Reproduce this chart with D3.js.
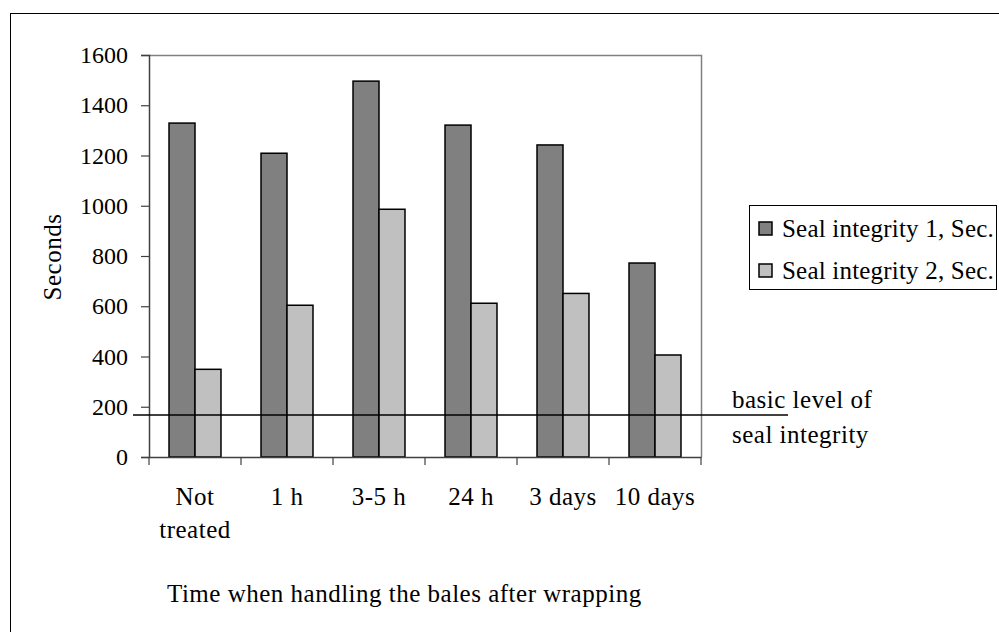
<!DOCTYPE html>
<html>
<head>
<meta charset="utf-8">
<script src="https://cdn.jsdelivr.net/npm/d3@7"></script>
<style>
  html, body { margin: 0; padding: 0; background: #fff; }
  svg { display: block; }
  text { font-family: "Liberation Serif", "Times New Roman", serif; fill: #000; }
  .lbl { letter-spacing: 0.5px; }
  .leg { letter-spacing: 0.2px; }
</style>
</head>
<body>
<svg id="chart" width="999" height="632"></svg>
<script>
// Time categories after wrapping
const categories = [["Not", "treated"], ["1 h"], ["3-5 h"], ["24 h"], ["3 days"], ["10 days"]];
// Seal integrity measurements, seconds
const sealIntegrity1 = [1329, 1209, 1496, 1321, 1242, 772];
const sealIntegrity2 = [349, 604, 986, 612, 651, 406];
const seriesNames = ["Seal integrity 1, Sec.", "Seal integrity 2, Sec."];
const seriesColors = ["#808080", "#c0c0c0"];
const yTicks = [0, 200, 400, 600, 800, 1000, 1200, 1400, 1600];
const basicLevel = 167;
const basicLabel = ["basic level of", "seal integrity"];
const xTitle = "Time when handling the bales after wrapping";
const yTitle = "Seconds";

const svg = d3.select("#chart");
const FS = 25;

// outer frame
svg.append("rect")
  .attr("x", 10.5).attr("y", 13.5)
  .attr("width", 1000).attr("height", 700)
  .attr("fill", "none").attr("stroke", "#000").attr("stroke-width", 1);

const plot = { left: 149, right: 701, top: 55, bottom: 457 };

const x0 = d3.scaleBand()
  .domain(d3.range(categories.length))
  .range([plot.left, plot.right])
  .padding(0);

const x1 = d3.scaleBand()
  .domain([0, 1])
  .range([0, x0.bandwidth()])
  .paddingInner(0)
  .paddingOuter(0.77);

const y = d3.scaleLinear().domain([0, 1600]).range([plot.bottom, plot.top]);

// plot area border (top / right)
svg.append("path")
  .attr("d", `M${plot.left},${plot.top + 0.5}H${plot.right + 0.5}V${plot.bottom}`)
  .attr("fill", "none").attr("stroke", "#808080").attr("stroke-width", 1.5);

// bars
const values = [sealIntegrity1, sealIntegrity2];
const groups = svg.append("g").selectAll("g")
  .data(categories.map((c, i) => i))
  .join("g")
  .attr("transform", i => `translate(${x0(i)},0)`);

groups.selectAll("rect")
  .data(i => values.map((v, s) => ({ s, v: v[i] })))
  .join("rect")
  .attr("x", d => x1(d.s))
  .attr("width", x1.bandwidth())
  .attr("y", d => y(d.v))
  .attr("height", d => y(0) - y(d.v))
  .attr("fill", d => seriesColors[d.s])
  .attr("stroke", "#000")
  .attr("stroke-width", 1.5);

// y axis
const yAxis = svg.append("g")
  .attr("transform", `translate(${plot.left},0)`)
  .call(d3.axisLeft(y).tickValues(yTicks).tickSize(8).tickPadding(13).tickFormat(d3.format("d")));
yAxis.select(".domain").attr("stroke", "#404040").attr("stroke-width", 1.5);
yAxis.selectAll(".tick line").attr("stroke", "#404040").attr("stroke-width", 1.2);
yAxis.selectAll(".tick text").style("font-family", "Liberation Serif").style("font-size", "24px").attr("fill", "#000");

// x axis
const xAxis = svg.append("g")
  .attr("transform", `translate(0,${plot.bottom})`)
  .call(d3.axisBottom(x0).tickValues([]).tickSizeOuter(0));
xAxis.select(".domain").attr("stroke", "#404040").attr("stroke-width", 1.5);
xAxis.selectAll(".sep")
  .data(d3.range(categories.length + 1))
  .join("line")
  .attr("class", "sep")
  .attr("x1", i => plot.left + i * x0.step())
  .attr("x2", i => plot.left + i * x0.step())
  .attr("y1", 0).attr("y2", 8)
  .attr("stroke", "#404040").attr("stroke-width", 1.2);

// category labels
const catLabels = svg.append("g").selectAll("text")
  .data(categories.map((c, i) => ({ c, i })))
  .join("text")
  .attr("class", "lbl")
  .attr("x", d => x0(d.i) + x0.bandwidth() / 2)
  .attr("y", 505)
  .attr("text-anchor", "middle")
  .style("font-size", FS + "px");
catLabels.selectAll("tspan")
  .data(d => d.c.map((t, k) => ({ t, k, x: x0(d.i) + x0.bandwidth() / 2 })))
  .join("tspan")
  .attr("x", d => d.x)
  .attr("dy", d => d.k === 0 ? 0 : 33)
  .text(d => d.t);

// basic level reference line
svg.append("line")
  .attr("x1", 133).attr("x2", 788)
  .attr("y1", y(basicLevel)).attr("y2", y(basicLevel))
  .attr("stroke", "#000").attr("stroke-width", 1.5);

svg.append("g").selectAll("text")
  .data(basicLabel)
  .join("text")
  .attr("class", "lbl")
  .attr("x", 732)
  .attr("y", (d, i) => 408 + i * 35)
  .style("font-size", FS + "px")
  .text(d => d);

// axis titles
svg.append("text")
  .attr("class", "lbl")
  .attr("x", 167).attr("y", 602)
  .style("font-size", FS + "px")
  .text(xTitle);

svg.append("text")
  .attr("class", "lbl")
  .attr("transform", `translate(61,257) rotate(-90)`)
  .attr("text-anchor", "middle")
  .style("font-size", FS + "px")
  .text(yTitle);

// legend
const legend = svg.append("g");
legend.append("rect")
  .attr("x", 749.5).attr("y", 205.5)
  .attr("width", 247).attr("height", 84)
  .attr("fill", "#fff").attr("stroke", "#000").attr("stroke-width", 1);
const items = legend.selectAll("g.item")
  .data(seriesNames.map((n, i) => ({ n, i })))
  .join("g").attr("class", "item")
  .attr("transform", d => `translate(0,${d.i * 42})`);
items.append("rect")
  .attr("x", 759).attr("y", 222)
  .attr("width", 13).attr("height", 13)
  .attr("fill", d => seriesColors[d.i])
  .attr("stroke", "#000").attr("stroke-width", 1.5);
items.append("text")
  .attr("class", "leg")
  .attr("x", 782).attr("y", 237)
  .style("font-size", FS + "px")
  .text(d => d.n);
</script>
</body>
</html>
